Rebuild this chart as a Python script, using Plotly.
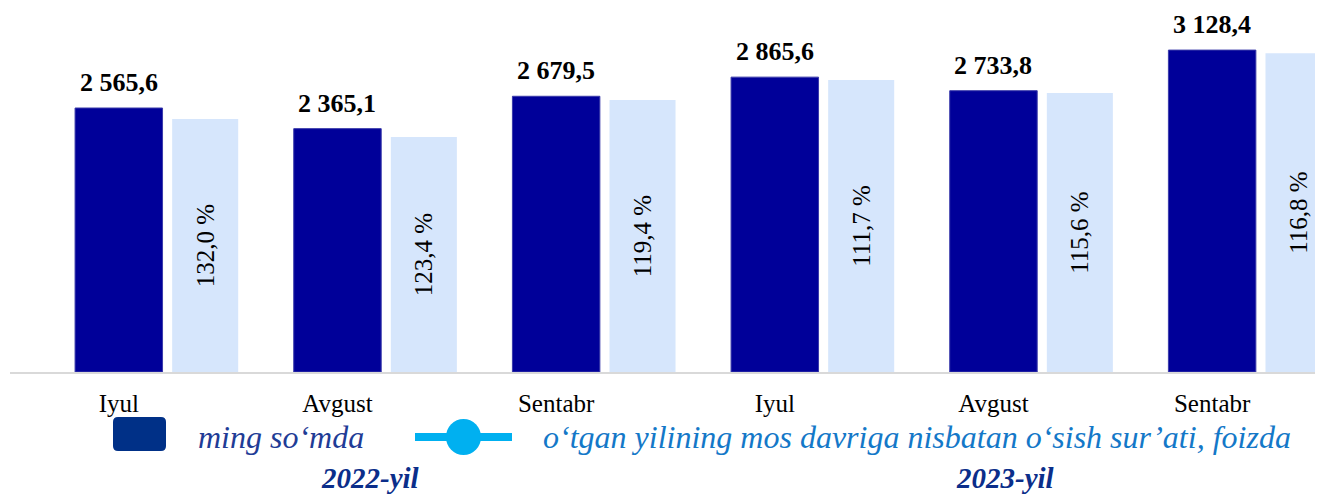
import plotly.graph_objects as go

# ---- data ----
months = ["Iyul", "Avgust", "Sentabr", "Iyul", "Avgust", "Sentabr"]
years = ["2022-yil", "2023-yil"]
wage_values = [2565.6, 2365.1, 2679.5, 2865.6, 2733.8, 3128.4]          # ming so'mda (dark bars)
growth_pct = [132.0, 123.4, 119.4, 111.7, 115.6, 116.8]                 # o'sish sur'ati, %
light_bar_values = [2459, 2284, 2643, 2838, 2711, 3097]                 # heights of light bars
legend_labels = ["ming so\u2018mda",
                 "o\u2018tgan yilining mos davriga nisbatan o\u2018sish sur\u2019ati, foizda"]

# ---- layout constants (page has an 8px body margin) ----
PAGE_OFF = 8
W, H = 1315, 487
ML, MR, MT, MB = 2, 0, 0, 123
PW, PH = W - ML - MR, H - MT - MB
FONT = "Liberation Serif"


def fmt_num(v):
    s = f"{v:,.1f}"
    return s.replace(",", " ").replace(".", ",")


def fmt_pct(v):
    return f"{v:.1f}".replace(".", ",") + " %"


def px2x(px):
    return (px - PAGE_OFF - ML) / PW


def py2y(py):
    return (MT + PH - (py - PAGE_OFF)) / PH


xs = list(range(len(months)))
light_offset = 0.395
px_per_unit = 0.1029

fig = go.Figure()
fig.add_trace(go.Bar(
    x=xs, y=wage_values, width=0.40,
    marker=dict(color="#000099", line=dict(color="#3a3aaa", width=1)),
    showlegend=False, hoverinfo="skip",
))
fig.add_trace(go.Bar(
    x=[x + light_offset for x in xs], y=light_bar_values, width=0.302,
    marker=dict(color="#D6E6FC", line=dict(width=0)),
    text=[fmt_pct(v) for v in growth_pct],
    textposition="inside", insidetextanchor="middle", textangle=-90,
    textfont=dict(family=FONT, size=25, color="black"),
    showlegend=False, hoverinfo="skip",
))

annotations = []
for x, v in zip(xs, wage_values):
    annotations.append(dict(
        x=x, y=v, xref="x", yref="y", text=f"<b>{fmt_num(v)}</b>",
        showarrow=False, yanchor="bottom", xanchor="center", yshift=9,
        font=dict(family=FONT, size=26, color="black"),
    ))

# legend texts
annotations.append(dict(
    x=px2x(196), y=py2y(437), xref="paper", yref="paper", xanchor="left", yanchor="middle",
    text=f"<i>{legend_labels[0]}</i>", showarrow=False,
    font=dict(family=FONT, size=32, color="#1F3C96"),
))
annotations.append(dict(
    x=px2x(541), y=py2y(437), xref="paper", yref="paper", xanchor="left", yanchor="middle",
    text=f"<i>{legend_labels[1]}</i>", showarrow=False,
    font=dict(family=FONT, size=32, color="#1478C8"),
))
# year labels
for cx, t in zip([370, 1005], years):
    annotations.append(dict(
        x=px2x(cx), y=py2y(495), xref="paper", yref="paper", xanchor="center", yanchor="bottom",
        text=f"<b><i>{t}</i></b>", showarrow=False, borderpad=0,
        font=dict(family=FONT, size=29, color="#0B2E8A"),
    ))


def rounded_rect(x0, y0, x1, y1, r):
    X = px2x
    Y = py2y
    return (f"M {X(x0 + r)} {Y(y0)} L {X(x1 - r)} {Y(y0)} Q {X(x1)} {Y(y0)} {X(x1)} {Y(y0 + r)} "
            f"L {X(x1)} {Y(y1 - r)} Q {X(x1)} {Y(y1)} {X(x1 - r)} {Y(y1)} "
            f"L {X(x0 + r)} {Y(y1)} Q {X(x0)} {Y(y1)} {X(x0)} {Y(y1 - r)} "
            f"L {X(x0)} {Y(y0 + r)} Q {X(x0)} {Y(y0)} {X(x0 + r)} {Y(y0)} Z")


shapes = [
    dict(type="path", xref="paper", yref="paper", path=rounded_rect(113, 417, 166, 451, 5),
         fillcolor="#003087", line=dict(width=0)),
    dict(type="line", xref="paper", yref="paper", x0=px2x(415), x1=px2x(512), y0=py2y(437), y1=py2y(437),
         line=dict(color="#00B0F0", width=8)),
    dict(type="circle", xref="paper", yref="paper", x0=px2x(446), x1=px2x(481), y0=py2y(419), y1=py2y(455),
         fillcolor="#00B0F0", line=dict(width=0)),
]

fig.update_layout(
    width=W, height=H,
    margin=dict(l=ML, r=MR, t=MT, b=MB),
    paper_bgcolor="white", plot_bgcolor="white",
    barmode="overlay",
    annotations=annotations, shapes=shapes,
    font=dict(family=FONT),
    xaxis=dict(range=[-0.4976, 5.507], tickvals=xs, ticktext=months,
               tickfont=dict(family=FONT, size=25, color="black"),
               ticklabelstandoff=8,
               showgrid=False, zeroline=False, showline=True, linecolor="#D9D9D9", linewidth=2,
               ticks="", fixedrange=True),
    yaxis=dict(range=[0, PH / px_per_unit], visible=False, showgrid=False, zeroline=False, fixedrange=True),
)

fig.write_html("out.html")
